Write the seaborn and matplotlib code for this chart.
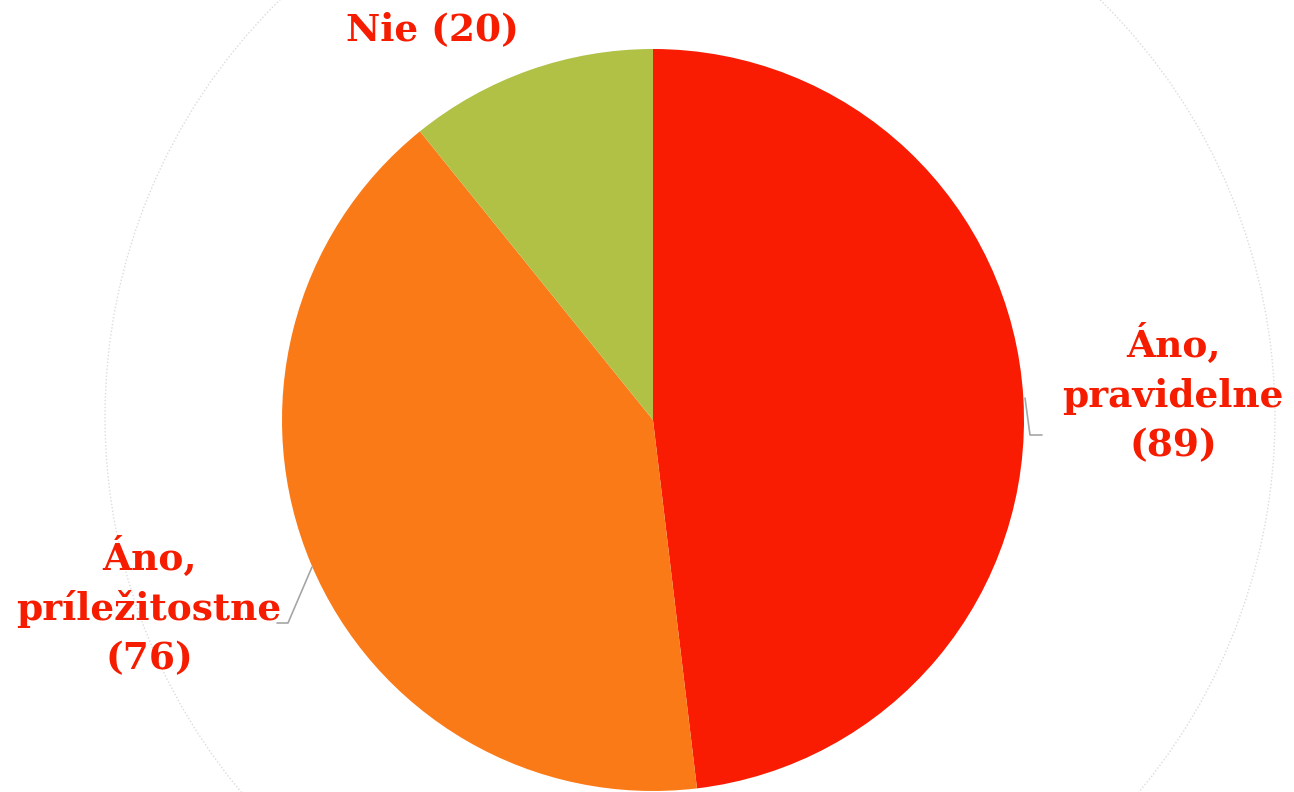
import matplotlib
matplotlib.use("Agg")
import matplotlib.pyplot as plt
import seaborn as sns
import numpy as np

sns.set_theme(style="white")
plt.rcParams['font.family'] = ['DejaVu Serif', 'DejaVu Sans']

categories = ["Áno, pravidelne", "Áno, príležitostne", "Nie"]
values = [89, 76, 20]
label_texts = ["Áno,\npravidelne\n(89)", "Áno,\npríležitostne\n(76)", "Nie (20)"]
colors = ["#F91B02", "#FA7A17", "#B1C145"]

W, H = 1294, 792
fig = plt.figure(figsize=(W / 100, H / 100), dpi=100)
ax = fig.add_axes([0, 0, 1, 1])
ax.set_xlim(0, W)
ax.set_ylim(0, H)
ax.set_aspect('equal')
ax.axis('off')

# faint dotted decorative circle
bg = plt.Circle((690, H - 417), 585, fill=False, edgecolor="#DCDCDC",
                linestyle=(0, (1, 1.5)), linewidth=1.0, zorder=0)
ax.add_patch(bg)

cx, cy, r = 653, H - 420, 371
ax.pie(values, colors=colors, startangle=90, counterclock=False,
       center=(cx, cy), radius=r, frame=True,
       wedgeprops=dict(linewidth=0))
ax.set_xlim(0, W)
ax.set_ylim(0, H)
ax.axis('off')

txt_color = "#F51C00"
fs = 27
ax.text(1173, H - 394, label_texts[0], ha='center', va='center', fontsize=fs,
        fontweight='bold', color=txt_color, linespacing=1.42)
ax.text(149, H - 607, label_texts[1], ha='center', va='center', fontsize=fs,
        fontweight='bold', color=txt_color, linespacing=1.42)
ax.text(432, H - 30, label_texts[2], ha='center', va='center', fontsize=fs,
        fontweight='bold', color=txt_color)

# leader lines
ax.plot([1025, 1030, 1042], [H - 398, H - 435, H - 435], color="#A6A6A6", lw=1.2)
ax.plot([312, 288, 277], [H - 567, H - 623, H - 623], color="#A6A6A6", lw=1.2)

fig.savefig("out.png", dpi=100)
